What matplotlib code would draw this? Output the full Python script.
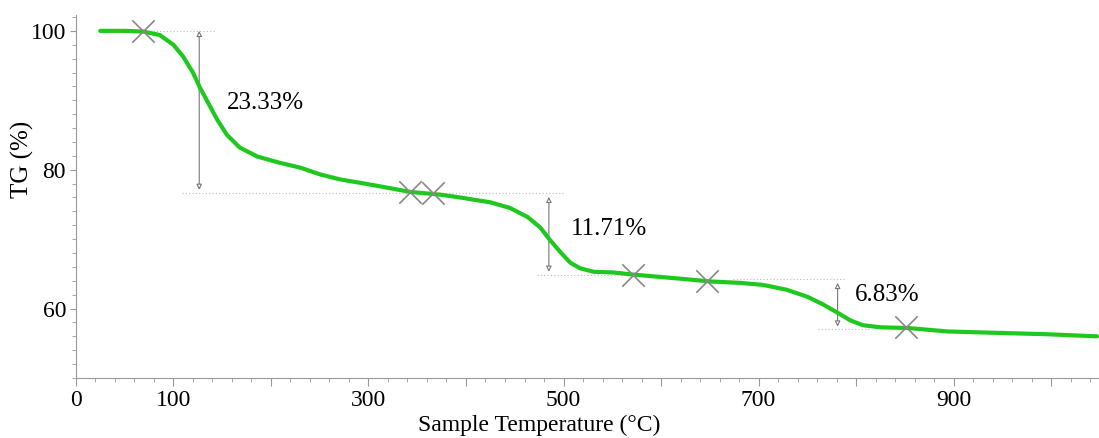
import matplotlib.pyplot as plt
from matplotlib.ticker import MultipleLocator, FixedLocator

plt.rcParams['font.family'] = ['Liberation Serif', 'DejaVu Serif']

# courbe TG
temperature = [25, 50, 69, 86, 100, 110, 120, 127, 135, 145, 155, 168, 186, 209,
               230, 251, 271, 292, 312, 343, 374, 394, 425, 445, 463, 476, 486, 497,
               507, 517, 531, 551, 571, 620, 651, 681, 705, 729, 750, 766, 781, 794,
               807, 825, 853, 894, 945, 996, 1047]
tg = [100.0, 100.0, 99.9, 99.4, 98.0, 96.3, 94.0, 91.9, 89.8, 87.2, 85.0, 83.2, 81.9,
      81.0, 80.3, 79.3, 78.6, 78.1, 77.6, 76.8, 76.4, 76.0, 75.3, 74.5, 73.2, 71.7,
      69.9, 68.1, 66.6, 65.8, 65.3, 65.2, 64.9, 64.3, 63.9, 63.7, 63.4, 62.7, 61.7,
      60.6, 59.4, 58.3, 57.6, 57.3, 57.2, 56.7, 56.5, 56.3, 56.0]

# marqueurs X
marker_t = [69, 343, 366, 571, 647, 851]
marker_tg = [100.0, 76.8, 76.7, 64.9, 64.0, 57.3]

# pertes de masse
step_t = [126.5, 485, 781]
step_top = [100.0, 76.1, 63.7]
step_bottom = [77.1, 65.3, 57.4]
step_labels = ['23.33%', '11.71%', '6.83%']
label_t = [155, 508, 799]
label_tg = [89.6, 71.4, 62.0]

# lignes pointillees de reference
guide_y = [100.0, 76.65, 64.8, 64.2, 57.1]
guide_x0 = [79, 109, 473, 674, 761]
guide_x1 = [143, 500, 579, 789, 815]

green = '#1ec81e'
grey = '#888888'

fig = plt.figure(figsize=(10.99, 4.38), dpi=100)
ax = fig.add_axes([0.069, 0.137, 0.931, 0.829])

for y, x0, x1 in zip(guide_y, guide_x0, guide_x1):
    ax.plot([x0, x1], [y, y], color='#bbbbbb', lw=0.8, ls=(0, (1, 2)), zorder=1)

ax.plot(temperature, tg, color=green, lw=3, solid_capstyle='round',
        solid_joinstyle='round', zorder=3)
ax.scatter(marker_t, marker_tg, marker='x', s=260, color=grey, linewidths=1.2, zorder=4)

for t, top, bottom in zip(step_t, step_top, step_bottom):
    ax.annotate('', xy=(t, bottom), xytext=(t, top),
                arrowprops=dict(arrowstyle='<|-|>', color='#777777', lw=0.8,
                                mutation_scale=8, fc='white', shrinkA=0, shrinkB=0),
                zorder=2)
for t, y, lab in zip(label_t, label_tg, step_labels):
    ax.text(t, y, lab, fontsize=18, va='center', ha='left')

ax.set_xlim(0, 1049)
ax.set_ylim(50, 102.3)
ax.set_xticks([0, 100, 200, 300, 400, 500, 600, 700, 800, 900, 1000])
ax.set_xticklabels(['0', '100', '', '300', '', '500', '', '700', '', '900', ''])
ax.xaxis.set_minor_locator(MultipleLocator(20))
ax.yaxis.set_major_locator(FixedLocator([60, 80, 100]))
ax.yaxis.set_minor_locator(MultipleLocator(2))

for side in ['top', 'right']:
    ax.spines[side].set_visible(False)
for side in ['left', 'bottom']:
    ax.spines[side].set_color('#999999')
ax.tick_params(which='major', color='#999999', labelsize=17)
ax.tick_params(axis='x', which='major', length=6, pad=3)
ax.tick_params(axis='x', which='minor', length=3, color='#999999')
ax.tick_params(axis='y', which='major', length=4, pad=3)
ax.tick_params(axis='y', which='minor', length=3, color='#999999')

ax.set_xlabel('Sample Temperature (°C)', fontsize=17)
ax.set_ylabel('TG (%)', fontsize=18)
ax.xaxis.set_label_coords(0.453, -0.102)
ax.yaxis.set_label_coords(-0.041, 0.603)

plt.savefig('out.png', dpi=100)
